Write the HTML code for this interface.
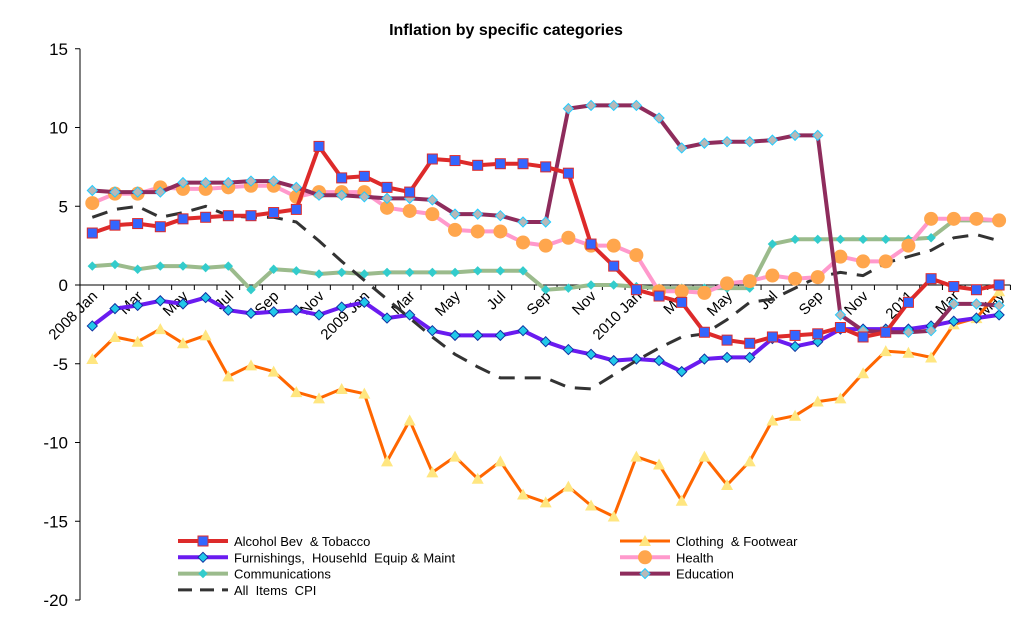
<!DOCTYPE html>
<html><head><meta charset="utf-8"><style>
body{margin:0;background:#fff;}
svg{display:block;font-family:"Liberation Sans",Arial,sans-serif;}
</style></head><body>
<svg id="chart" width="1013" height="623" viewBox="0 0 1013 623" xmlns="http://www.w3.org/2000/svg">
<text x="506" y="35" text-anchor="middle" font-size="16" font-weight="bold">Inflation by specific categories</text>
<g id="grid"></g><g id="series"></g><g id="legend"></g>
</svg>
<script>
const months = ["2008 Jan","Feb","Mar","Apr","May","Jun","Jul","Aug","Sep","Oct","Nov","Dec","2009 Jan","Feb","Mar","Apr","May","Jun","Jul","Aug","Sep","Oct","Nov","Dec","2010 Jan","Feb","Mar","Apr","May","Jun","Jul","Aug","Sep","Oct","Nov","Dec","2011","Feb","Mar","Apr","May"];
const yTicks = [15,10,5,0,-5,-10,-15,-20];
const alcohol = [3.3,3.8,3.9,3.7,4.2,4.3,4.4,4.4,4.6,4.8,8.8,6.8,6.9,6.2,5.9,8.0,7.9,7.6,7.7,7.7,7.5,7.1,2.6,1.2,-0.3,-0.7,-1.1,-3.0,-3.5,-3.7,-3.3,-3.2,-3.1,-2.7,-3.3,-3.0,-1.1,0.4,-0.1,-0.3,0.0];
const clothing = [-4.7,-3.3,-3.6,-2.8,-3.7,-3.2,-5.8,-5.1,-5.5,-6.8,-7.2,-6.6,-6.9,-11.2,-8.6,-11.9,-10.9,-12.3,-11.2,-13.3,-13.8,-12.8,-14.0,-14.7,-10.9,-11.4,-13.7,-10.9,-12.7,-11.2,-8.6,-8.3,-7.4,-7.2,-5.6,-4.2,-4.3,-4.6,-2.5,-2.1,-0.4];
const furnishings = [-2.6,-1.5,-1.3,-1.0,-1.2,-0.8,-1.6,-1.8,-1.7,-1.6,-1.9,-1.4,-1.1,-2.1,-1.9,-2.9,-3.2,-3.2,-3.2,-2.9,-3.6,-4.1,-4.4,-4.8,-4.7,-4.8,-5.5,-4.7,-4.6,-4.6,-3.4,-3.9,-3.6,-2.8,-2.8,-2.8,-2.8,-2.6,-2.3,-2.1,-1.9];
const health = [5.2,5.8,5.8,6.2,6.1,6.1,6.2,6.3,6.3,5.6,5.9,5.9,5.9,4.9,4.7,4.5,3.5,3.4,3.4,2.7,2.5,3.0,2.5,2.5,1.9,-0.4,-0.4,-0.5,0.1,0.25,0.6,0.4,0.5,1.8,1.5,1.5,2.5,4.2,4.2,4.2,4.1];
const comms = [1.2,1.3,1.0,1.2,1.2,1.1,1.2,-0.3,1.0,0.9,0.7,0.8,0.7,0.8,0.8,0.8,0.8,0.9,0.9,0.9,-0.3,-0.2,0.0,0.0,-0.1,-0.2,-0.2,-0.2,-0.2,-0.2,2.6,2.9,2.9,2.9,2.9,2.9,2.9,3.0,4.1,4.1,4.1];
const education = [6.0,5.9,5.9,5.9,6.5,6.5,6.5,6.6,6.6,6.2,5.7,5.7,5.6,5.5,5.5,5.4,4.5,4.5,4.4,4.0,4.0,11.2,11.4,11.4,11.4,10.6,8.7,9.0,9.1,9.1,9.2,9.5,9.5,-1.9,-2.9,-3.0,-3.0,-2.9,-1.2,-1.2,-1.3];
const cpi = [4.3,4.8,5.0,4.3,4.6,5.0,4.4,4.3,4.3,4.0,2.8,1.5,0.3,-0.9,-2.1,-3.3,-4.4,-5.2,-5.9,-5.9,-5.9,-6.5,-6.6,-5.7,-4.8,-4.0,-3.3,-3.1,-2.2,-1.1,-0.9,-0.2,0.5,0.8,0.6,1.4,1.8,2.2,3.0,3.2,2.8];

const NS="http://www.w3.org/2000/svg";
const X0=92.3, DX=22.67, Y0=285, UNIT=15.75, AXL=80;
const xs=i=>X0+i*DX;
const ys=v=>Y0-v*UNIT;
function mk(tag,attrs,parent){const e=document.createElementNS(NS,tag);for(const k in attrs)e.setAttribute(k,attrs[k]);parent.appendChild(e);return e;}
const grid=document.getElementById('grid'), ser=document.getElementById('series'), leg=document.getElementById('legend');

const yAxis=mk('line',{x1:AXL,x2:AXL,y1:ys(15),y2:ys(-20),stroke:'#000','stroke-width':1},grid);


yTicks.forEach(t=>{
  const tk=mk('line',{x1:AXL-5,x2:AXL,y1:ys(t),y2:ys(t),stroke:'#000'},grid);
  
  
  const tl=mk('text',{x:AXL-12,y:ys(t)+6,'text-anchor':'end','font-size':17},grid);
  tl.textContent=t;
  
  
});
const xAxis=mk('line',{x1:AXL,x2:xs(months.length-1)+DX/2,y1:Y0,y2:Y0,stroke:'#000'},grid);


months.forEach((m,i)=>{
  const tk=mk('line',{x1:xs(i)+DX/2,x2:xs(i)+DX/2,y1:Y0,y2:Y0+5,stroke:'#000'},grid);
  
  
  if(i%2===0){
    const x=xs(i)+6,y=Y0+12;
    const tl=mk('text',{x:x,y:y,'text-anchor':'end','font-size':15,transform:`rotate(-45 ${x} ${y})`},grid);
    tl.textContent=m;
    
    
  }
});

function marker(type,x,y,g,o){
  let e;
  if(type==='square') e=mk('rect',{x:x-5,y:y-5,width:10,height:10,fill:o.mf,stroke:o.ms,'stroke-width':1},g);
  else if(type==='circle') e=mk('circle',{cx:x,cy:y,r:7,fill:o.mf},g);
  else if(type==='diamond') e=mk('path',{d:`M${x} ${y-o.ds}L${x+o.ds} ${y}L${x} ${y+o.ds}L${x-o.ds} ${y}Z`,fill:o.mf,stroke:o.ms,'stroke-width':1},g);
  else if(type==='triangle') e=mk('path',{d:`M${x} ${y-6}L${x+6} ${y+5}L${x-6} ${y+5}Z`,fill:o.mf},g);
  if(e){}
}
const defs=[
 {name:'clothing',label:'Clothing  & Footwear',data:clothing,color:'#ff6600',w:3,mk:'triangle',mf:'#ffe680',col:1,row:0},
 {name:'furnishings',label:'Furnishings,  Househld  Equip & Maint',data:furnishings,color:'#6a1bf0',w:4,mk:'diamond',mf:'#22c8e8',ms:'#1030a0',ds:5,col:0,row:1},
 {name:'communications',label:'Communications',data:comms,color:'#9bbb8c',w:4,mk:'diamond',mf:'#33cccc',ms:'#33cccc',ds:4,col:0,row:2},
 {name:'cpi',label:'All  Items  CPI',data:cpi,color:'#333',w:3,dash:'16 10',mk:null,col:0,row:3},
 {name:'health',label:'Health',data:health,color:'#ff99cc',w:4,mk:'circle',mf:'#ffa64d',col:1,row:1},
 {name:'education',label:'Education',data:education,color:'#8e2c5c',w:4,mk:'diamond',mf:'#b8b8b8',ms:'#22ccff',ds:5,col:1,row:2},
 {name:'alcohol',label:'Alcohol Bev  & Tobacco',data:alcohol,color:'#dd2a2a',w:4,mk:'square',mf:'#3366ff',ms:'#dd2a2a',col:0,row:0},
];
defs.forEach(s=>{
  const g=mk('g',{},ser);
  
  
  const pts=s.data.map((v,i)=>xs(i).toFixed(1)+','+ys(v).toFixed(1)).join(' ');
  const pl=mk('polyline',{points:pts,fill:'none',stroke:s.color,'stroke-width':s.w,'stroke-linejoin':'round'},g);
  if(s.dash)pl.setAttribute('stroke-dasharray',s.dash);
  
  
  if(s.mk) s.data.forEach((v,i)=>marker(s.mk,xs(i),ys(v),g,s));
  const lx=s.col===0?178:620, ly=541+s.row*16.3;
  const lg=mk('g',{},leg);
  
  
  const ll=mk('line',{x1:lx,x2:lx+50,y1:ly,y2:ly,stroke:s.color,'stroke-width':s.w},lg);
  if(s.dash)ll.setAttribute('stroke-dasharray','14 8');
  
  
  if(s.mk) marker(s.mk,lx+25,ly,lg,s);
  const t=mk('text',{x:lx+56,y:ly+5,'font-size':13,'xml:space':'preserve',style:'white-space:pre'},lg);
  t.textContent=s.label;
  
  
});
</script>
</body></html>
